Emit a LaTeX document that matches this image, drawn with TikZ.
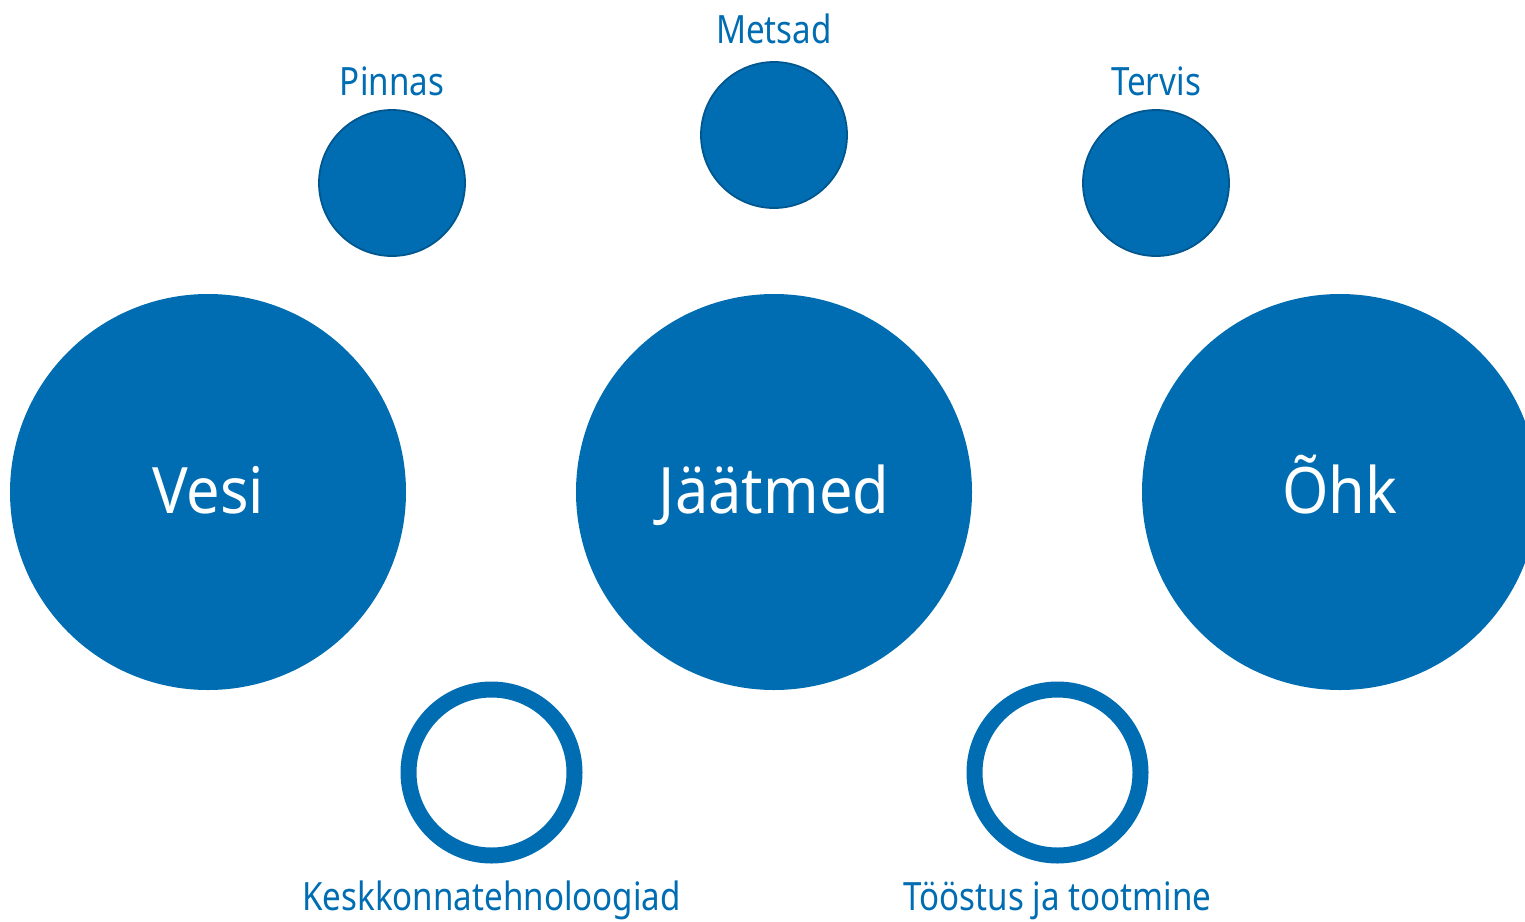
\documentclass[tikz,border=0pt]{standalone}
\usepackage{fontspec}
\setmainfont{Noto Sans}
\newfontfamily\condfont[FakeStretch=0.85]{Noto Sans}
\newfontfamily\bigfont[FakeStretch=0.93]{Noto Sans}
\definecolor{mainblue}{HTML}{006DB2}
\definecolor{edgeblue}{HTML}{00568F}
\begin{document}
\begin{tikzpicture}[x=1pt,y=-1pt,
  bigc/.style={circle,fill=mainblue,draw=none,minimum size=396pt,inner sep=0pt},
  bigl/.style={text=white,font=\bigfont\fontsize{64}{70}\selectfont,inner sep=0pt,anchor=base},
  smallc/.style={circle,fill=mainblue,draw=edgeblue,line width=1.8pt,minimum size=146pt,inner sep=0pt},
  ringc/.style={circle,draw=mainblue,line width=16pt,minimum size=166pt,inner sep=0pt},
  lab/.style={text=mainblue,font=\condfont\fontsize{39}{42}\selectfont,inner sep=0pt,anchor=base}]
\useasboundingbox (0,0) rectangle (1525,921);
\clip (0,0) rectangle (1525,921);
\node[bigc] (vesi) at (208,492) {};
\node[bigc] (jaat) at (774,492) {};
\node[bigc] (ohk) at (1340,492) {};
\node[bigl] (lvesi) at (208,513) {Vesi};
\node[bigl] (ljaat) at (774,513) {Jäätmed};
\node[bigl] (lohk) at (1340,513) {Õhk};
\node[smallc] (pinnas) at (392,183) {};
\node[smallc] (metsad) at (774,135) {};
\node[smallc] (tervis) at (1156,183) {};
\node[ringc] (kesk) at (491.5,772.5) {};
\node[ringc] (toos) at (1057.5,772.5) {};
\node[lab] (lpinnas) at (392,95) {Pinnas};
\node[lab] (lmetsad) at (774,43) {Metsad};
\node[lab] (ltervis) at (1156,95) {Tervis};
\node[lab] (lkesk) at (491.5,910) {Keskkonnatehnoloogiad};
\node[lab] (ltoos) at (1057.5,910) {Tööstus ja tootmine};
\end{tikzpicture}
\end{document}
